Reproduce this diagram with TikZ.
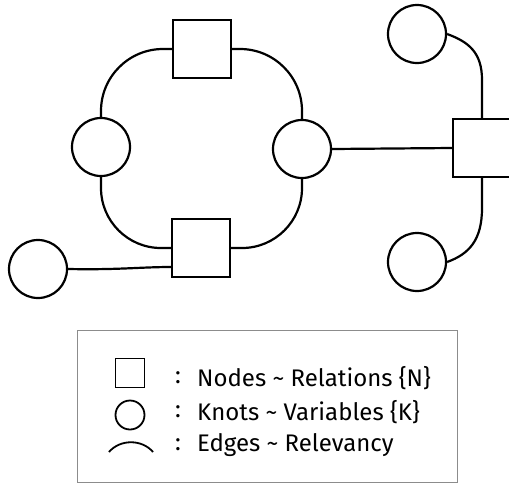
\documentclass[tikz,border=0pt]{standalone}
\usepackage{fontspec}
\setmainfont{Fira Sans}
\usetikzlibrary{calc}
\begin{document}
\begin{tikzpicture}[x=1pt,y=-1pt,
  knot/.style={circle,draw,line width=2.2pt,minimum size=58pt,inner sep=0pt},
  rel/.style={rectangle,draw,line width=2.2pt,minimum size=58pt,inner sep=0pt},
  edge/.style={draw,line width=2.2pt},
  lgknot/.style={circle,draw,line width=1.8pt,minimum size=29pt,inner sep=0pt},
  lgrel/.style={rectangle,draw,line width=1.8pt,minimum size=29pt,inner sep=0pt},
  lgtext/.style={anchor=west,inner sep=0pt,font=\fontsize{24}{26}\selectfont},
  lgcolon/.style={anchor=center,inner sep=0pt,font=\fontsize{24}{26}\selectfont}]
\useasboundingbox (0,0) rectangle (509,483);
% nodes
\node[rel]  (sqT) at (202,49) {};
\node[knot] (cL)  at (101,147) {};
\node[knot] (cR)  at (302,149) {};
\node[rel]  (sqR) at (482,148) {};
\node[rel]  (sqB) at (201,248) {};
\node[knot] (cBL) at (38,269) {};
\node[knot] (cTR) at (417,34) {};
\node[knot] (cBR) at (417,262) {};
% edges
\draw[edge,rounded corners=62pt] (sqT.west) -| (cL.north);
\draw[edge,rounded corners=62pt] (sqT.east) -| (cR.north);
\draw[edge,rounded corners=60pt] (cL.south) |- (sqB.west);
\draw[edge,rounded corners=60pt] (cR.south) |- (sqB.east);
\draw[edge] (cR.east) -- (sqR.west);
\draw[edge] (cTR.east) .. controls ($(cTR.east)+(22,8)$) and ($(sqR.north)+(0,-65)$) .. ($(sqR.north)+(0,-38)$) -- (sqR.north);
\draw[edge] (sqR.south) -- ($(sqR.south)+(0,30)$) .. controls ($(sqR.south)+(0,62)$) and ($(cBR.east)+(22,-8)$) .. (cBR.east);
\draw[edge] (cBL.east) .. controls ($(cBL.east)+(50,1)$) and ($(sqB.west)+(-30,19)$) .. ([yshift=-19pt]sqB.west);
% legend
\node[draw=black!45,line width=1pt,minimum width=380pt,minimum height=152pt,inner sep=0pt] (box) at (267,406) {};
\node[lgrel]  (lgS) at (130,373) {};
\node[lgknot] (lgC) at (130,415) {};
\coordinate (lgA) at (109,452);
\coordinate (lgB) at (153,452);
\draw[line width=1.8pt] (lgA) .. controls (120,439) and (142,439) .. (lgB);
\node[lgcolon] (c1) at (178,378) {:};
\node[lgcolon] (c2) at (178,412) {:};
\node[lgcolon] (c3) at (178,445) {:};
\node[lgtext] (t1) at (197,378) {Nodes \textasciitilde\ Relations \{N\}};
\node[lgtext] (t2) at (197,412) {Knots \textasciitilde\ Variables \{K\}};
\node[lgtext] (t3) at (197,445) {Edges \textasciitilde\ Relevancy};
\end{tikzpicture}
\end{document}
